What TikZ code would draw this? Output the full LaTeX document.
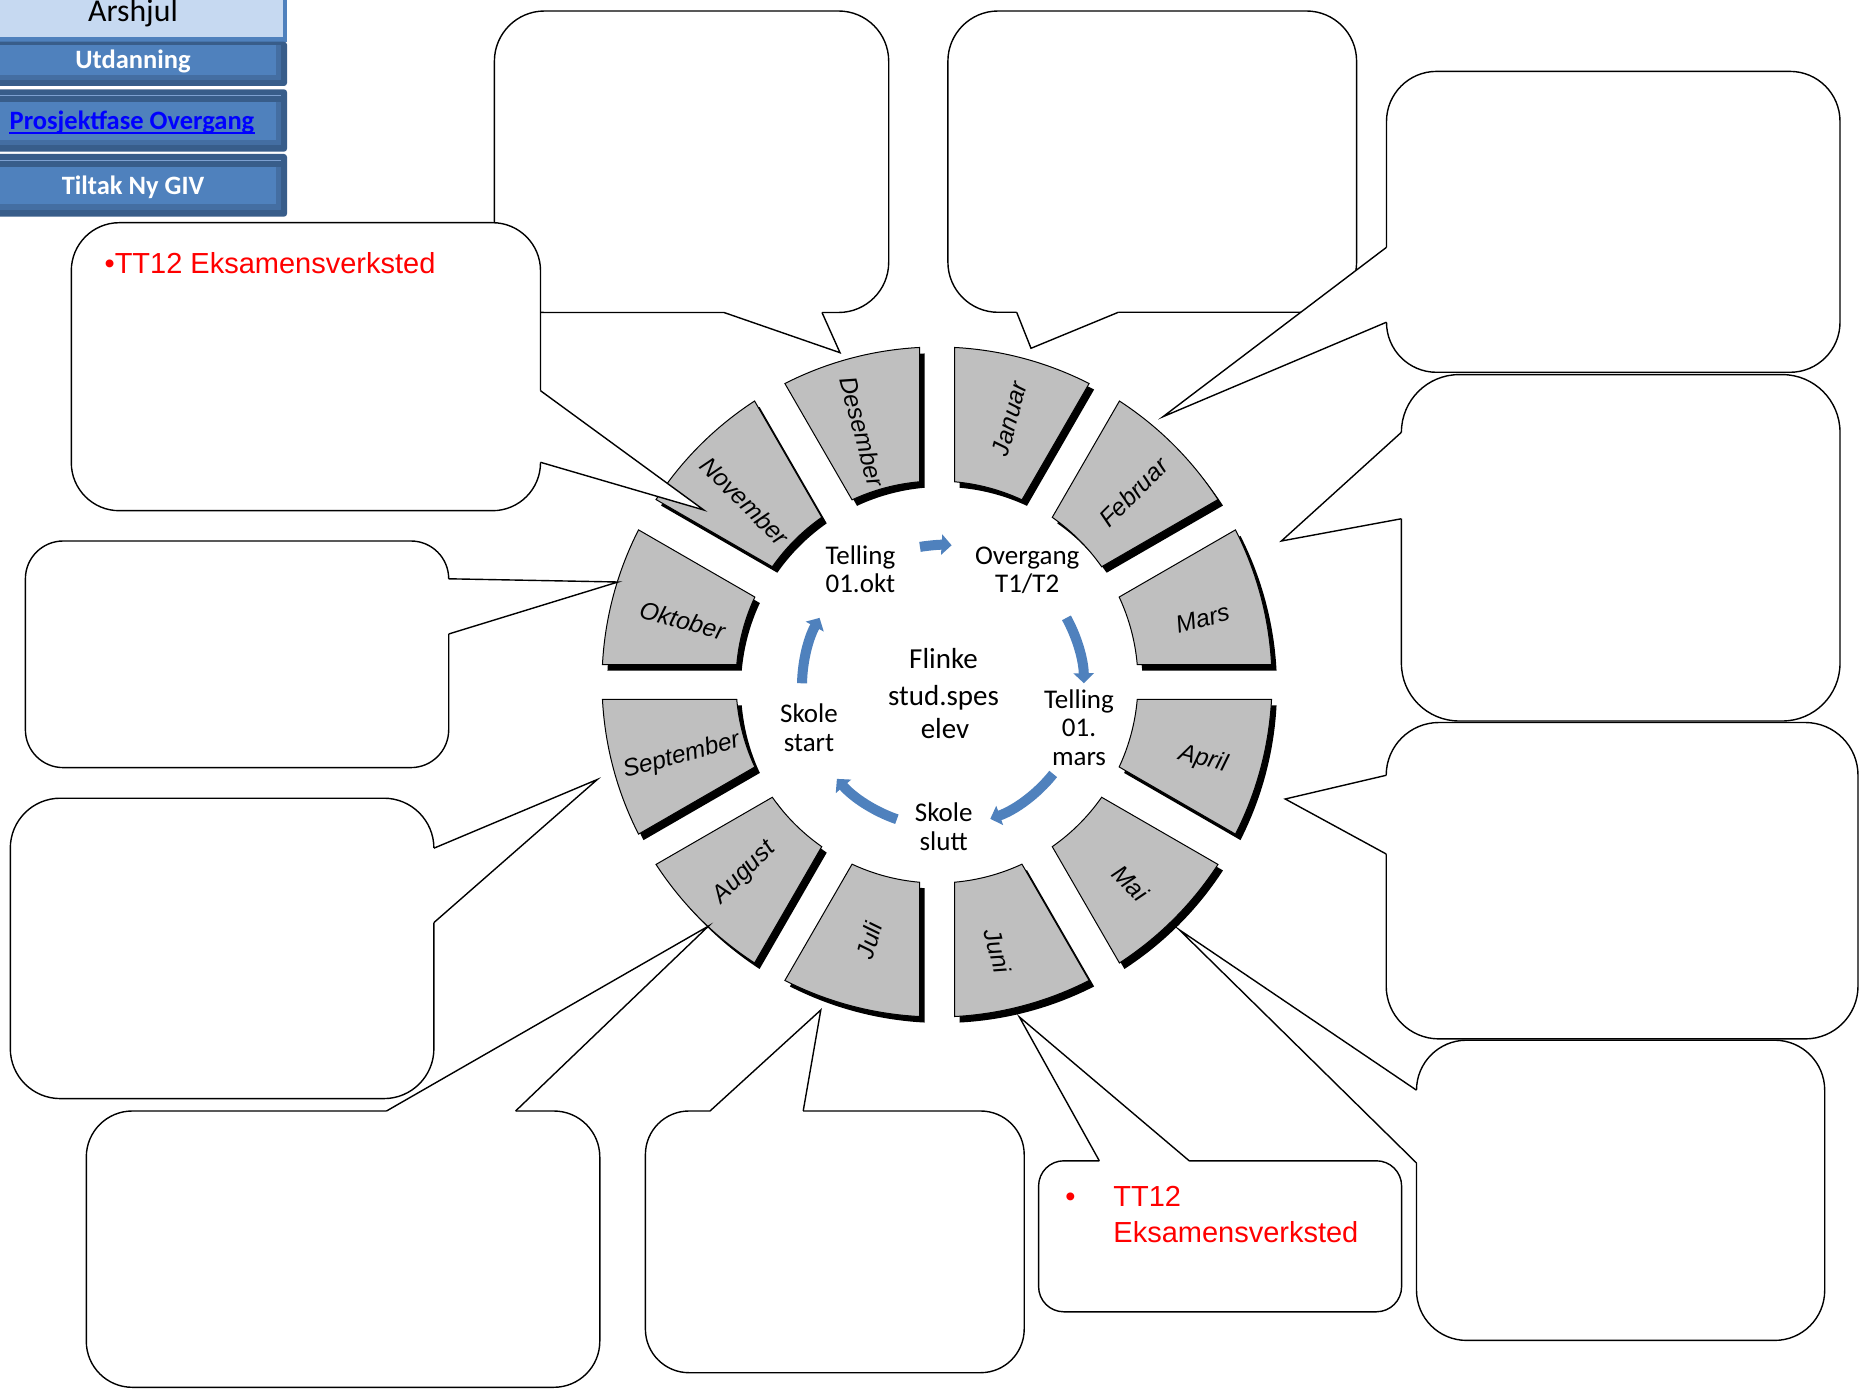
\documentclass[tikz,border=0pt]{standalone}
\usepackage{fontspec}
\setmainfont{Liberation Sans}
\newfontfamily\calfont{Carlito}
\usetikzlibrary{arrows.meta}
\definecolor{segfill}{RGB}{191,191,191}
\definecolor{arrowblue}{RGB}{79,129,189}
\definecolor{btnblue}{RGB}{79,129,189}
\definecolor{btndark}{RGB}{56,93,138}
\definecolor{btnmid}{RGB}{68,110,162}
\definecolor{btnlight}{RGB}{125,160,208}
\definecolor{hdrlight}{RGB}{198,217,241}
\definecolor{linkblue}{RGB}{0,0,255}
\definecolor{ttred}{RGB}{255,0,0}
\tikzset{
  segshape/.style={fill=segfill, draw=black, line width=0.5pt, line join=miter},
  segshadow/.style={fill=black},
  month/.style={font=\fontsize{12.25}{14}\selectfont\itshape, inner sep=0pt},
  cbox/.style={draw=black, fill=white, line width=0.7pt, rounded corners=#1},
  cedge/.style={draw=black, line width=0.7pt, line join=miter, miter limit=30},
  innertxt/.style={font=\calfont\fontsize{13.5}{14}\selectfont, inner sep=0pt, anchor=base},
  centertxt/.style={font=\calfont\fontsize{14.5}{17}\selectfont, inner sep=0pt, anchor=base},
  cycarrow/.style={draw=arrowblue, line width=5pt, -{Triangle[width=10pt,length=5pt]}},
  btntext/.style={font=\calfont\bfseries\fontsize{13.25}{15}\selectfont, inner sep=0pt, anchor=base},
  ttext/.style={font=\fontsize{14.5}{18}\selectfont, text=ttred, inner sep=0pt, anchor=base west},
}
\begin{document}
\begin{tikzpicture}[x=0.5pt, y=-0.5pt]
\useasboundingbox (0,0) rectangle (1865,1390);
\fill[white] (0,0) rectangle (1865,1390);

% ---------- wheel of months ----------
\begin{scope}[shift={(937,682)}, y=0.5pt]
 \foreach \c/\nm/\rot/\ta/\tr in {75/Januar/75/74.6/273, 45/Februar/45/44/273, 15/Mars/15/13.4/273, -15/April/-15/-16.2/277, -45/Mai/-45/-46.1/279, -75/Juni/-75/-77.3/276, -105/Juli/75/-104.7/267, -135/August/45/-135.2/271, -165/September/15/-163.8/266, 165/Oktober/-15/166.4/262, 135/November/-45/136.7/264, 105/Desember/-75/106.6/261}{
   \pgfmathsetmacro{\oa}{\c-15+2.994}
   \pgfmathsetmacro{\ob}{\c+15-2.994}
   \pgfmathsetmacro{\ia}{\c-15+4.995}
   \pgfmathsetmacro{\ib}{\c+15-4.995}
   \fill[segshadow, shift={(5,-6)}] (\oa:335) arc[start angle=\oa, end angle=\ob, radius=335] -- (\ib:201) arc[start angle=\ib, end angle=\ia, radius=201] -- cycle;
   \path[segshape] (\oa:335) arc[start angle=\oa, end angle=\ob, radius=335] -- (\ib:201) arc[start angle=\ib, end angle=\ia, radius=201] -- cycle;
   \node[month, rotate=\rot] (m\nm) at (\ta:\tr) {\nm};
 }
\end{scope}

% ---------- cycle arrows ----------
\begin{scope}[shift={(943,686)}, y=0.5pt]
 \draw[cycarrow] (99.4:141) arc[start angle=99.4, end angle=86.5, radius=141];
 \draw[cycarrow] (28.9:141) arc[start angle=28.9, end angle=1.1, radius=141];
 \draw[cycarrow] (-38.6:141) arc[start angle=-38.6, end angle=-70.4, radius=141];
 \draw[cycarrow] (-109.1:141) arc[start angle=-109.1, end angle=-138.8, radius=141];
 \draw[cycarrow] (178.9:141) arc[start angle=178.9, end angle=151.1, radius=141];
\end{scope}

% ---------- inner texts ----------
\node[innertxt] (okt1) at (860.4,565) {Telling};
\node[innertxt] (okt2) at (860.4,592.7) {01.okt};
\node[innertxt] (ovg1) at (1027.2,565) {Overgang};
\node[innertxt] (ovg2) at (1027.2,592.7) {T1/T2};
\node[centertxt] (fl1) at (943.5,668.3) {Flinke};
\node[centertxt] (fl2) at (943.5,705) {stud.spes};
\node[centertxt] (fl3) at (945,738.3) {elev};
\node[innertxt] (mrs1) at (1079,708.3) {Telling};
\node[innertxt] (mrs2) at (1079,736.7) {01.};
\node[innertxt] (mrs3) at (1079,765) {mars};
\node[innertxt] (sst1) at (809,722.7) {Skole};
\node[innertxt] (sst2) at (809,751) {start};
\node[innertxt] (ssl1) at (943.7,821.7) {Skole};
\node[innertxt] (ssl2) at (943.7,850) {slutt};

% ---------- callouts ----------
% Desember
\draw[cbox=25.1pt] (494.4,11) rectangle (888.7,312.5);
\fill[white] (822,312.5) -- (840,352.7) -- (724,312.5) -- (724,308.5) -- (822,308.5) -- cycle;
\draw[cedge] (822,312.5) -- (840,352.7) -- (724,312.5);
% top-left TT12
\draw[cbox=24pt] (71.3,222.7) rectangle (540.5,510.7);
\fill[white] (540.5,390.7) -- (703.8,510) -- (540.5,462.3) -- (536.5,462.3) -- (536.5,390.7) -- cycle;
\draw[cedge] (540.5,390.7) -- (703.8,510) -- (540.5,462.3);
\node[ttext] (tt1) at (104.2,274) {•TT12 Eksamensverksted};
% Januar
\draw[cbox=25.1pt] (947.9,11) rectangle (1356.6,312.3);
\fill[white] (1016.7,312.3) -- (1031,348.3) -- (1118.3,312.3) -- (1118.3,308.3) -- (1016.7,308.3) -- cycle;
\draw[cedge] (1016.7,312.3) -- (1031,348.3) -- (1118.3,312.3);
% Februar
\draw[cbox=25pt] (1386.5,71.4) rectangle (1840,372.3);
\fill[white] (1386.5,247.3) -- (1163,416.7) -- (1386.5,322.2) -- (1390.5,322.2) -- (1390.5,247.3) -- cycle;
\draw[cedge] (1386.5,247.3) -- (1163,416.7) -- (1386.5,322.2);
% Mars
\draw[cbox=28.85pt] (1401.4,374.6) rectangle (1840,721);
\fill[white] (1401.4,432.3) -- (1281.4,541) -- (1401.4,518.75) -- (1405.4,518.75) -- (1405.4,432.3) -- cycle;
\draw[cedge] (1401.4,432.3) -- (1281.4,541) -- (1401.4,518.75);
% April
\draw[cbox=26.4pt] (1386.2,722.5) rectangle (1858,1038.9);
\fill[white] (1386.2,775.3) -- (1285.2,799) -- (1386.2,854) -- (1390.2,854) -- (1390.2,775.3) -- cycle;
\draw[cedge] (1386.2,775.3) -- (1285.2,799) -- (1386.2,854);
% Mai
\draw[cbox=25pt] (1416.5,1040.2) rectangle (1824.7,1340.4);
\fill[white] (1416.5,1090.2) -- (1179.3,929.8) -- (1416.5,1163) -- (1420.5,1163) -- (1420.5,1090.2) -- cycle;
\draw[cedge] (1416.5,1090.2) -- (1179.3,929.8) -- (1416.5,1163);
% Juni TT12
\draw[cbox=12.6pt] (1038.6,1160.8) rectangle (1401.6,1311.8);
\fill[white] (1099.3,1160.8) -- (1019.3,1016.9) -- (1189.2,1160.8) -- (1189.2,1164.8) -- (1099.3,1164.8) -- cycle;
\draw[cedge] (1099.3,1160.8) -- (1019.3,1016.9) -- (1189.2,1160.8);
\node[ttext] (ttb0) at (1065,1206) {•};
\node[ttext] (ttb1) at (1113,1206) {TT12};
\node[ttext] (ttb2) at (1113,1242) {Eksamensverksted};
% Juli
\draw[cbox=21.8pt] (645.4,1111) rectangle (1024.2,1372.7);
\fill[white] (710,1111) -- (820.8,1010) -- (803.2,1111) -- (803.2,1115) -- (710,1115) -- cycle;
\draw[cedge] (710,1111) -- (820.8,1010) -- (803.2,1111);
% August
\draw[cbox=23pt] (86.3,1111) rectangle (599.8,1387.3);
\fill[white] (386.5,1111) -- (708.6,926) -- (515.6,1111) -- (515.6,1115) -- (386.5,1115) -- cycle;
\draw[cedge] (386.5,1111) -- (708.6,926) -- (515.6,1111);
% September
\draw[cbox=25pt] (10.3,798.2) rectangle (433.9,1098.6);
\fill[white] (433.9,848.2) -- (597.3,779.5) -- (433.9,922.6) -- (429.9,922.6) -- (429.9,848.2) -- cycle;
\draw[cedge] (433.9,848.2) -- (597.3,779.5) -- (433.9,922.6);
% Oktober
\draw[cbox=18.9pt] (25.4,541) rectangle (448.7,767.6);
\fill[white] (448.7,578.8) -- (618,582) -- (448.7,634) -- (444.7,634) -- (444.7,578.8) -- cycle;
\draw[cedge] (448.7,578.8) -- (618,582) -- (448.7,634);

% ---------- header buttons ----------
\fill[btnblue] (0,0) rectangle (287,41.7);
\fill[hdrlight] (0,0) rectangle (283.3,36.7);
\node[font=\calfont\fontsize{15.9}{18}\selectfont, inner sep=0pt, anchor=base] (hArs) at (133,21.7) {Arshjul};

\fill[btndark, rounded corners=1.5pt] (-5,41.7) rectangle (287,86);
\fill[btnmid] (0,45) rectangle (281,80);
\fill[btnblue] (0,45) rectangle (276,75);
\node[btntext, text=white] (hUtd) at (133,68.3) {Utdanning};

\fill[btndark, rounded corners=1.5pt] (-5,89.3) rectangle (287,151.7);
\draw[btnlight, line width=0.6pt] (0,95.7) -- (281,95.7);
\fill[btnmid] (0,101.7) rectangle (281,145);
\fill[btnblue] (0,101.7) rectangle (276,140);
\node[btntext, text=linkblue] (hPro) at (132,129.3) {Prosjektfase Overgang};
\draw[linkblue, line width=1.1pt] ([yshift=-2pt]hPro.base west) -- ([yshift=-2pt]hPro.base east);

\fill[btndark, rounded corners=1.5pt] (-5,154) rectangle (287,216.7);
\draw[btnlight, line width=0.6pt] (0,160.7) -- (281,160.7);
\fill[btnmid] (0,166.7) rectangle (281,210);
\fill[btnblue] (0,166.7) rectangle (276,204);
\node[btntext, text=white] (hTil) at (133,194.3) {Tiltak Ny GIV};
\end{tikzpicture}
\end{document}
